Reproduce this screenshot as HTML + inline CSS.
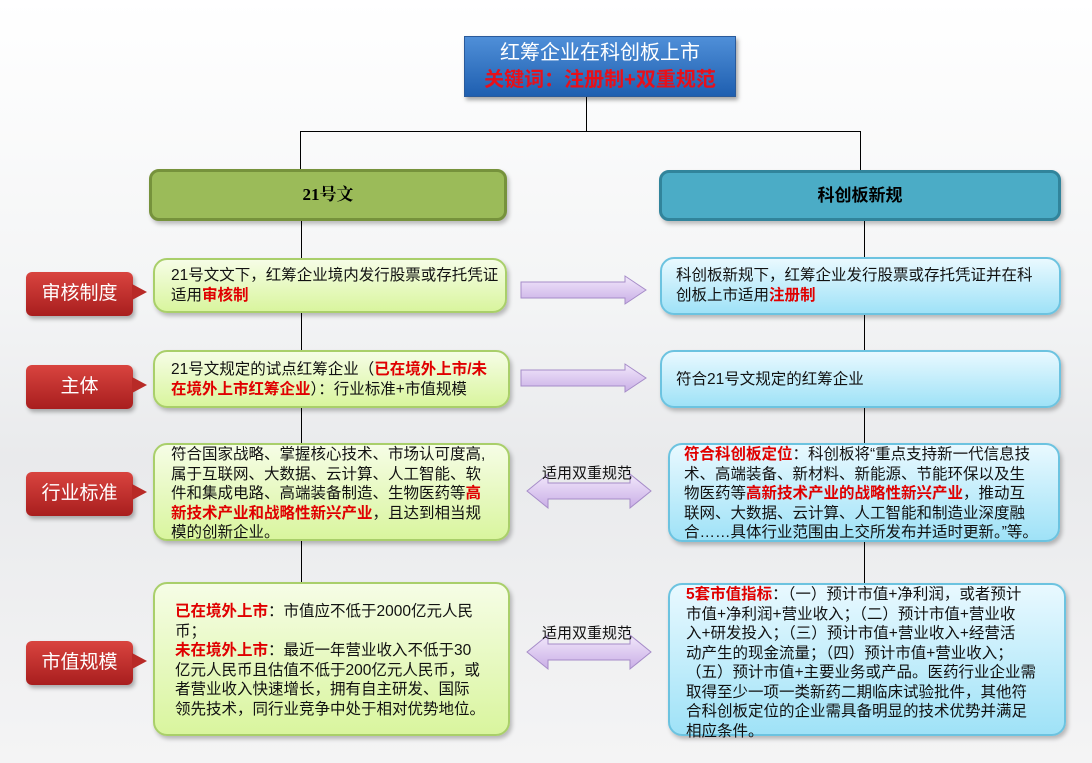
<!DOCTYPE html>
<html><head><meta charset="utf-8"><style>
body{margin:0;width:1092px;height:763px;overflow:hidden;position:relative;font-family:"Liberation Sans","Noto Sans CJK SC",sans-serif;background:linear-gradient(180deg,#ffffff 0%,#f3f4f5 40%,#e9eaec 60%,#f4f4f5 100%);}
.a{position:absolute;box-sizing:border-box;}
.ln{position:absolute;background:#000;}
.g{background:linear-gradient(180deg,#f6fde6,#d9f59e);border:2px solid #a9cf6a;border-radius:14px;box-shadow:2px 3px 4px rgba(0,0,0,.25);font-size:15.5px;line-height:19.5px;color:#111;white-space:nowrap;padding:4px 0 0 16px;}
.b{background:linear-gradient(180deg,#e9f9ff,#9fe2f7);border:2px solid #6cc3e0;border-radius:14px;box-shadow:2px 3px 4px rgba(0,0,0,.25);font-size:15.5px;line-height:19.5px;color:#111;white-space:nowrap;padding:4px 0 0 14px;}
.r{color:#e00000;font-weight:bold;}
.lab{background:linear-gradient(180deg,#d9443f,#a81e1e);color:#fff;font-size:19px;border-radius:6px;box-shadow:2px 3px 4px rgba(0,0,0,.3);text-align:center;line-height:44px;width:107px;height:44px;}
.lab:after{content:"";position:absolute;right:-14px;top:12px;border-left:15px solid #b82a27;border-top:8px solid transparent;border-bottom:8px solid transparent;}
.t{font-size:15px;color:#111;white-space:nowrap;}
</style></head><body>
<div class="a" style="left:464px;top:36px;width:272px;height:61px;background:linear-gradient(180deg,#4f8fd8,#1f5fb0);border:1px solid #2a5a9a;box-shadow:2px 3px 4px rgba(0,0,0,.35);text-align:center;color:#fff;font-size:20px;line-height:27px;padding-top:3px;">红筹企业在科创板上市<br><span style="color:#e8101a;font-weight:bold;">关键词：注册制+双重规范</span></div>
<div class="ln" style="left:586px;top:97px;width:1px;height:35px"></div>
<div class="ln" style="left:300px;top:131px;width:561px;height:1px"></div>
<div class="ln" style="left:300px;top:131px;width:1px;height:39px"></div>
<div class="ln" style="left:860px;top:131px;width:1px;height:40px"></div>
<div class="ln" style="left:301px;top:221px;width:1px;height:362px"></div>
<div class="ln" style="left:864px;top:221px;width:1px;height:362px"></div>
<div class="a" style="left:149px;top:169px;width:358px;height:52px;background:#9bbb59;border:3px solid #76923c;border-radius:10px;box-shadow:2px 3px 4px rgba(0,0,0,.25);text-align:center;line-height:46px;font-weight:bold;font-size:17px;font-family:'Liberation Serif','Noto Serif CJK SC',serif;">21号文</div>
<div class="a" style="left:659px;top:170px;width:402px;height:51px;background:#4bacc6;border:3px solid #31849b;border-radius:10px;box-shadow:2px 3px 4px rgba(0,0,0,.25);text-align:center;line-height:45px;font-weight:bold;font-size:17px;">科创板新规</div>

<div class="a lab" style="left:26px;top:272px;">审核制度</div>
<div class="a lab" style="left:26px;top:365px;">主体</div>
<div class="a lab" style="left:26px;top:472px;">行业标准</div>
<div class="a lab" style="left:26px;top:641px;">市值规模</div>

<div class="a g" style="left:153px;top:258px;width:354px;height:55px;padding-top:6px;">21号文文下，红筹企业境内发行股票或存托凭证<br>适用<span class="r">审核制</span></div>
<div class="a g" style="left:153px;top:350px;width:357px;height:58px;padding-top:8px;">21号文规定的试点红筹企业（<span class="r">已在境外上市/未</span><br><span class="r">在境外上市红筹企业</span>）：行业标准+市值规模</div>
<div class="a g" style="left:153px;top:443px;width:357px;height:98px;padding-top:0;">符合国家战略、掌握核心技术、市场认可度高,<br>属于互联网、大数据、云计算、人工智能、软<br>件和集成电路、高端装备制造、生物医药等<span class="r">高</span><br><span class="r">新技术产业和战略性新兴产业</span>，且达到相当规<br>模的创新企业。</div>
<div class="a g" style="left:153px;top:582px;width:357px;height:154px;padding:18px 0 0 20px;"><span class="r">已在境外上市</span>：市值应不低于2000亿元人民<br>币；<br><span class="r">未在境外上市</span>：最近一年营业收入不低于30<br>亿元人民币且估值不低于200亿元人民币，或<br>者营业收入快速增长，拥有自主研发、国际<br>领先技术，同行业竞争中处于相对优势地位。</div>

<div class="a b" style="left:660px;top:257px;width:401px;height:58px;padding-top:7px;">科创板新规下，红筹企业发行股票或存托凭证并在科<br>创板上市适用<span class="r">注册制</span></div>
<div class="a b" style="left:660px;top:350px;width:401px;height:58px;padding-top:18px;">符合21号文规定的红筹企业</div>
<div class="a b" style="left:668px;top:443px;width:392px;height:99px;padding:0 0 0 14px;"><span class="r">符合科创板定位</span>：科创板将“重点支持新一代信息技<br>术、高端装备、新材料、新能源、节能环保以及生<br>物医药等<span class="r">高新技术产业的战略性新兴产业</span>，推动互<br>联网、大数据、云计算、人工智能和制造业深度融<br>合……具体行业范围由上交所发布并适时更新。”等。</div>
<div class="a b" style="left:668px;top:583px;width:398px;height:153px;padding:0 0 0 16px;"><span class="r">5套市值指标</span>：（一）预计市值+净利润，或者预计<br>市值+净利润+营业收入；（二）预计市值+营业收<br>入+研发投入；（三）预计市值+营业收入+经营活<br>动产生的现金流量；（四）预计市值+营业收入；<br>（五）预计市值+主要业务或产品。医药行业企业需<br>取得至少一项一类新药二期临床试验批件，其他符<br>合科创板定位的企业需具备明显的技术优势并满足<br>相应条件。</div>

<svg class="a" style="left:0;top:0" width="1092" height="763">
<defs><linearGradient id="p" x1="0" y1="0" x2="0" y2="1"><stop offset="0" stop-color="#f2e8fb"/><stop offset="1" stop-color="#c9aee6"/></linearGradient></defs>
<polygon points="521,282 625,282 625,276 646,290 625,304 625,298 521,298" fill="url(#p)" stroke="#a68cc8"/>
<polygon points="521,370 625,370 625,364 646,378 625,392 625,386 521,386" fill="url(#p)" stroke="#a68cc8"/>
<polygon points="527,491 548,474 548,483 630,483 630,474 651,491 630,508 630,499 548,499 548,508" fill="url(#p)" stroke="#a68cc8"/>
<polygon points="527,652 548,635 548,644 630,644 630,635 651,652 630,669 630,660 548,660 548,669" fill="url(#p)" stroke="#a68cc8"/>
</svg>
<div class="a t" style="left:542px;top:462px;">适用双重规范</div>
<div class="a t" style="left:542px;top:622px;">适用双重规范</div>
</body></html>
